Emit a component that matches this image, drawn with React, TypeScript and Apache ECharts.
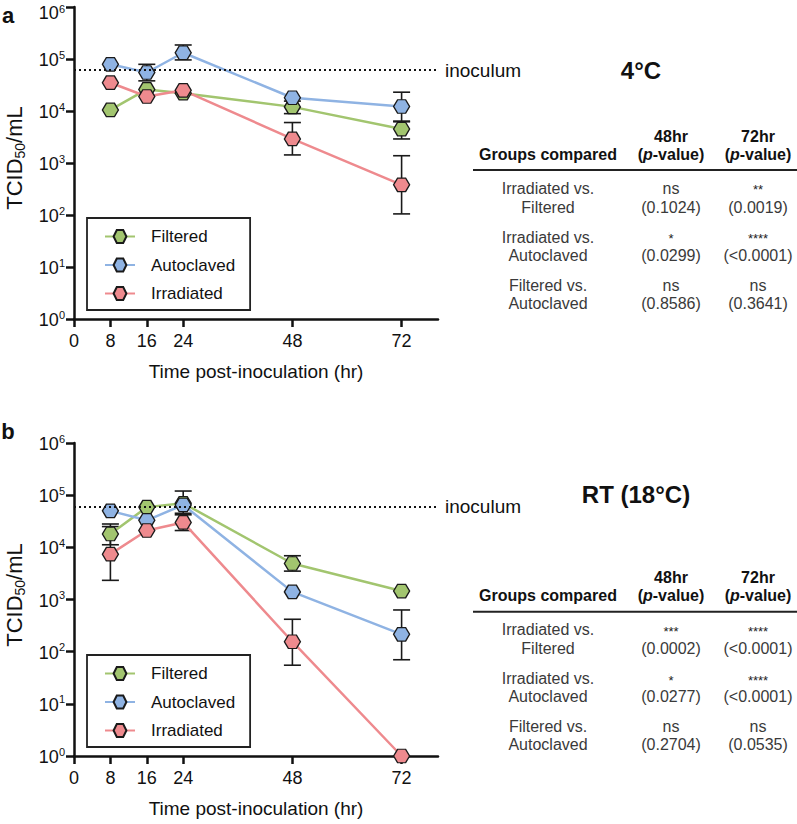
import React, { useEffect, useRef } from 'react';
import * as echarts from 'echarts';

// ---------- data ----------
const hours = [8, 16, 24, 48, 72];
const xTickValues = [0, 8, 16, 24, 48, 72];
const yTickValues = [1, 10, 100, 1000, 10000, 100000, 1000000];
const seriesNames = ['Filtered', 'Autoclaved', 'Irradiated'];
const seriesColors = ['#a2c56f', '#8fb3e3', '#ee8a8e'];
const inoculum = 6.1e4;

// Panel a: 4°C
const filteredA = [1.05e4, 2.6e4, 2.2e4, 1.2e4, 4.5e3];
const autoclavedA = [7.9e4, 5.5e4, 1.32e5, 1.8e4, 1.22e4];
const irradiatedA = [3.5e4, 1.9e4, 2.5e4, 2.9e3, 380];
// error bars: [hour, low, high]
const filteredAErr = [[48, 8.9e3, 1.55e4], [72, 2.9e3, 6.2e3]];
const autoclavedAErr = [[16, 3.8e4, 7.9e4], [24, 9.6e4, 1.86e5], [72, 6.4e3, 2.3e4]];
const irradiatedAErr = [[48, 1.43e3, 6.0e3], [72, 105, 1.38e3]];

// Panel b: RT (18°C)
const filteredB = [1.8e4, 5.9e4, 7.0e4, 4.9e3, 1.45e3];
const autoclavedB = [5.0e4, 3.3e4, 6.5e4, 1.4e3, 215];
const irradiatedB = [7.4e3, 2.1e4, 3.0e4, 155, 1];
const filteredBErr = [[8, 1.12e4, 2.8e4], [48, 3.5e3, 6.9e3]];
const autoclavedBErr = [[24, 4.5e4, 1.2e5], [72, 70, 630]];
const irradiatedBErr = [[8, 2.33e3, 2.5e4], [24, 2.1e4, 4.2e4], [48, 55, 418]];

// tables
const panelTitles = ['4°C', 'RT (18°C)'];
const panelLetters = ['a', 'b'];
const tableHeader = ['Groups compared', '48hr', '72hr'];
const comparisons = [
  ['Irradiated vs.', 'Filtered'],
  ['Irradiated vs.', 'Autoclaved'],
  ['Filtered vs.', 'Autoclaved'],
];
const sigA48 = ['ns', '*', 'ns'];
const pA48 = ['0.1024', '0.0299', '0.8586'];
const sigA72 = ['**', '****', 'ns'];
const pA72 = ['0.0019', '<0.0001', '0.3641'];
const sigB48 = ['***', '*', 'ns'];
const pB48 = ['0.0002', '0.0277', '0.2704'];
const sigB72 = ['****', '****', 'ns'];
const pB72 = ['<0.0001', '<0.0001', '0.0535'];

// ---------- styling ----------
const FONT = '"Liberation Sans", Arial, Helvetica, sans-serif';
const INK = '#111';
const hexPath = 'path://M0,6L3.5,0L10.5,0L14,6L10.5,12L3.5,12Z';

const panels = [
  { top: 7, height: 312, titleY: 158, shiftTop: true, values: [filteredA, autoclavedA, irradiatedA], errs: [filteredAErr, autoclavedAErr, irradiatedAErr] },
  { top: 443, height: 313, titleY: 595, shiftTop: false, values: [filteredB, autoclavedB, irradiatedB], errs: [filteredBErr, autoclavedBErr, irradiatedBErr] },
];

function text(x: number, y: number, t: string, extra: any = {}, rich?: any) {
  return {
    type: 'text',
    x,
    y,
    silent: true,
    style: {
      text: t,
      align: 'center',
      verticalAlign: 'middle',
      fontFamily: FONT,
      fontSize: 16,
      fill: '#3a3a3a',
      ...(rich ? { rich } : {}),
      ...extra,
    },
  };
}

function tableGraphics(base: number, s48: string[], p48: string[], s72: string[], p72: string[]) {
  const cols = [548, 671, 758];
  const els: any[] = [];
  const headRich = {
    h: { fontFamily: FONT, fontSize: 16, fontWeight: 'bold', fill: INK },
    i: { fontFamily: FONT, fontSize: 16, fontWeight: 'bold', fontStyle: 'italic', fill: INK },
  };
  els.push(text(cols[0], base - 16, tableHeader[0], { fontWeight: 'bold', fill: INK }));
  els.push(text(cols[1], base - 34, tableHeader[1], { fontWeight: 'bold', fill: INK }));
  els.push(text(cols[2], base - 34, tableHeader[2], { fontWeight: 'bold', fill: INK }));
  els.push(text(cols[1], base - 16, '{h|(}{i|p}{h|-value)}', {}, headRich));
  els.push(text(cols[2], base - 16, '{h|(}{i|p}{h|-value)}', {}, headRich));
  els.push({
    type: 'line',
    silent: true,
    shape: { x1: 473, y1: base, x2: 797, y2: base },
    style: { stroke: '#222', lineWidth: 2 },
  });
  const rows = [[18, 37], [67, 85], [115, 133]];
  rows.forEach((r, i) => {
    els.push(text(cols[0], base + r[0], comparisons[i][0]));
    els.push(text(cols[0], base + r[1], comparisons[i][1]));
    [[s48, p48], [s72, p72]].forEach((pair, k) => {
      const sig = pair[0][i];
      const isStar = sig.indexOf('*') >= 0;
      els.push(
        text(cols[k + 1], base + r[0] + (isStar ? 1.5 : 0), sig, isStar ? { fontSize: 13, fill: '#222' } : {})
      );
      els.push(text(cols[k + 1], base + r[1], '(' + pair[1][i] + ')'));
    });
  });
  return els;
}

function yTitle(x: number, y: number) {
  return {
    type: 'text',
    x,
    y,
    rotation: Math.PI / 2,
    silent: true,
    style: {
      text: '{a|TCID}{s|50}{a|/mL}',
      align: 'center',
      verticalAlign: 'middle',
      fill: INK,
      rich: {
        a: { fontFamily: FONT, fontSize: 22, fill: INK },
        s: { fontFamily: FONT, fontSize: 14, fill: INK, padding: [11, 0, 0, 0] },
      },
    },
  };
}

export default function App() {
  const ref = useRef<HTMLDivElement>(null);

  useEffect(() => {
    if (!ref.current) return;
    const chart = echarts.init(ref.current, undefined, { renderer: 'svg' });

    const grids: any[] = [];
    const xAxes: any[] = [];
    const yAxes: any[] = [];
    const series: any[] = [];
    const legends: any[] = [];

    panels.forEach((p, pi) => {
      grids.push({ left: 74, top: p.top, width: 364, height: p.height, outerBoundsMode: 'none' });
      xAxes.push({
        gridIndex: pi,
        type: 'value',
        min: 0,
        max: 80,
        axisLine: { show: true, lineStyle: { color: INK, width: 2.5 } },
        axisTick: { show: true, customValues: xTickValues, length: 8, lineStyle: { color: INK, width: 2.5 } },
        axisLabel: { customValues: xTickValues, fontSize: 18, color: INK, margin: 13, fontFamily: FONT },
        splitLine: { show: false },
        name: 'Time post-inoculation (hr)',
        nameLocation: 'middle',
        nameGap: 43,
        nameTextStyle: { fontSize: 19, color: INK, fontFamily: FONT },
      });
      yAxes.push({
        gridIndex: pi,
        type: 'log',
        logBase: 10,
        min: 1,
        max: 1e6,
        splitNumber: 6,
        axisLine: { show: true, lineStyle: { color: INK, width: 2.5 } },
        axisTick: { show: true, customValues: yTickValues, length: 8, lineStyle: { color: INK, width: 2.5 } },
        axisLabel: {
          customValues: yTickValues,
          margin: 9,
          formatter: (v: number) => {
            const e = Math.round(Math.log10(v));
            if (p.shiftTop && e === 6) return `{bt|10}{st|${e}}`;
            return `{b|10}{s|${e}}`;
          },
          rich: {
            b: { fontSize: 18, color: INK, fontFamily: FONT, padding: [2, 0, 0, 0] },
            s: { fontSize: 11, color: INK, fontFamily: FONT, padding: [0, 0, 9, 0] },
            bt: { fontSize: 18, color: INK, fontFamily: FONT, padding: [12, 0, 0, 0] },
            st: { fontSize: 11, color: INK, fontFamily: FONT, padding: [3, 0, 0, 0] },
          },
        },
        splitLine: { show: false },
      });

      // error bars
      const errData = ([] as number[][]).concat(...p.errs);
      series.push({
        type: 'custom',
        xAxisIndex: pi,
        yAxisIndex: pi,
        z: 1,
        silent: true,
        data: errData,
        encode: { x: 0, y: [1, 2] },
        renderItem: (params: any, api: any) => {
          const x = api.value(0);
          const lo = api.coord([x, api.value(1)]);
          const hi = api.coord([x, api.value(2)]);
          const w = 8.5;
          const st = { stroke: '#1a1a1a', lineWidth: 1.6 };
          return {
            type: 'group',
            children: [
              { type: 'line', shape: { x1: lo[0], y1: lo[1], x2: hi[0], y2: hi[1] }, style: st },
              { type: 'line', shape: { x1: lo[0] - w, y1: lo[1], x2: lo[0] + w, y2: lo[1] }, style: st },
              { type: 'line', shape: { x1: hi[0] - w, y1: hi[1], x2: hi[0] + w, y2: hi[1] }, style: st },
            ],
          };
        },
      });

      seriesNames.forEach((name, si) => {
        const s: any = {
          name,
          type: 'line',
          xAxisIndex: pi,
          yAxisIndex: pi,
          z: 3,
          data: hours.map((h, i) => [h, p.values[si][i]]),
          symbol: hexPath,
          symbolSize: [16, 13.5],
          lineStyle: { color: seriesColors[si], width: 2.5 },
          itemStyle: { color: seriesColors[si], borderColor: '#1a1a1a', borderWidth: 1.3 },
          emphasis: { disabled: true },
        };
        if (si === 0) {
          s.markLine = {
            silent: true,
            symbol: 'none',
            data: [{ yAxis: inoculum }],
            lineStyle: { type: [2, 3], color: INK, width: 2 },
            label: { show: true, position: 'end', formatter: 'inoculum', fontSize: 19, color: INK, distance: 7, fontFamily: FONT },
            emphasis: { disabled: true },
          };
        }
        series.push(s);
      });

      legends.push({
        data: seriesNames,
        orient: 'vertical',
        left: 87,
        top: pi === 0 ? 218 : 655,
        padding: [10, 15, 8, 17],
        itemWidth: 30,
        itemHeight: 16,
        itemGap: 11.5,
        borderColor: '#222',
        borderWidth: 1.8,
        selectedMode: false,
        textStyle: { fontSize: 17, color: INK, fontFamily: FONT, padding: [0, 0, 0, 11], lineHeight: 16 },
      });
    });

    const graphics: any[] = [
      text(8, 15, panelLetters[0], { fontSize: 22, fontWeight: 'bold', fill: INK }),
      text(8, 431, panelLetters[1], { fontSize: 22, fontWeight: 'bold', fill: INK }),
      text(641, 70, panelTitles[0], { fontSize: 24, fontWeight: 'bold', fill: INK }),
      text(636, 494, panelTitles[1], { fontSize: 24, fontWeight: 'bold', fill: INK }),
      yTitle(14, panels[0].titleY),
      yTitle(14, panels[1].titleY),
      ...tableGraphics(170, sigA48, pA48, sigA72, pA72),
      ...tableGraphics(611.7, sigB48, pB48, sigB72, pB72),
    ];

    chart.setOption({
      animation: false,
      backgroundColor: '#fff',
      textStyle: { fontFamily: FONT },
      grid: grids,
      xAxis: xAxes,
      yAxis: yAxes,
      legend: legends,
      series,
      graphic: graphics,
    });

    return () => chart.dispose();
  }, []);

  return (
    <div
      ref={ref}
      style={{ position: 'fixed', left: 0, top: 0, width: 797, height: 824 }}
    />
  );
}
